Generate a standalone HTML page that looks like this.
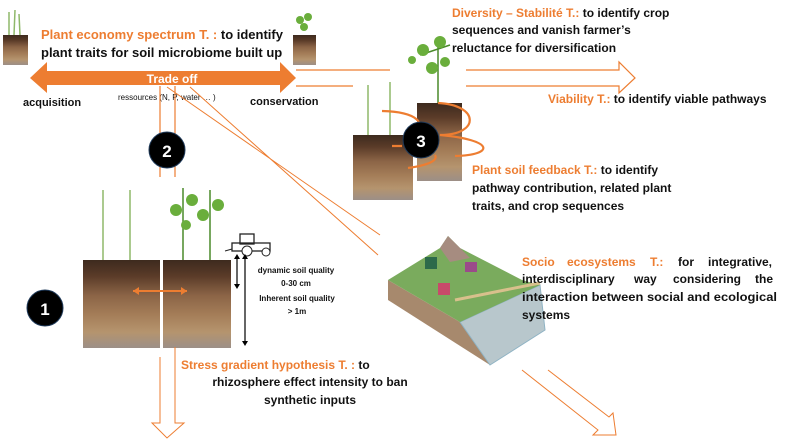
<!DOCTYPE html>
<html><head><meta charset="utf-8"><style>
html,body{margin:0;padding:0;background:#fff;}
svg{display:block;}
text{font-family:"Liberation Sans",sans-serif;font-weight:bold;}
.o{fill:#ED7D31;}
.k{fill:#111;}
</style></head><body>
<svg width="785" height="444" viewBox="0 0 785 444" xmlns="http://www.w3.org/2000/svg">
<defs>
<linearGradient id="soil" x1="0" y1="0" x2="0" y2="1">
<stop offset="0" stop-color="#3d2a1e"/><stop offset="0.18" stop-color="#5a3b28"/>
<stop offset="0.4" stop-color="#8b6446"/><stop offset="0.62" stop-color="#a47d58"/>
<stop offset="0.82" stop-color="#b5946e"/><stop offset="1" stop-color="#9c8f87"/>
</linearGradient>
</defs>
<!-- small icons top -->
<rect x="3" y="35" width="25" height="30" fill="url(#soil)"/>
<path d="M9 35 L9 12 M14 35 L15 10 M20 35 L19 14" stroke="#8fb86a" stroke-width="1.5"/>
<rect x="293" y="35" width="23" height="30" fill="url(#soil)"/>
<circle cx="300" cy="20" r="4" fill="#6aae3c"/><circle cx="308" cy="17" r="4" fill="#6aae3c"/><circle cx="304" cy="27" r="4" fill="#6aae3c"/>

<text x="41" y="39" font-size="13"><tspan class="o">Plant economy spectrum T. : </tspan><tspan class="k">to identify</tspan></text>
<text x="41" y="57" font-size="13" class="k">plant traits for soil microbiome built up</text>

<path d="M296 70 L390 70 M466 70 L619 70 L619 62 L635 78 L619 93 L619 86 L466 86 M353 86 L296 86" fill="none" stroke="#ED7D31" stroke-width="1.2"/>

<path d="M30 78 L47 62 L47 71 L280 71 L280 62 L296 78 L280 93 L280 85 L47 85 L47 93 Z" fill="#ED7D31"/>
<text x="172" y="83" font-size="12" fill="#fff" text-anchor="middle">Trade off</text>
<text x="23" y="106" font-size="11" class="k">acquisition</text>
<text x="118" y="100" font-size="8" style="font-weight:normal" class="k">ressources (N, P, water … )</text>
<text x="250" y="105" font-size="11" class="k">conservation</text>

<path d="M160 86 L160 177 M175 86 L175 177" stroke="#ED7D31" stroke-width="1.2"/>
<path d="M167 87 L380 235 M190 87 L378 255" stroke="#ED7D31" stroke-width="1"/>
<circle cx="167" cy="150" r="18" fill="#000" stroke="#1f3a5a" stroke-width="1"/>
<text x="167" y="157" font-size="17" fill="#fff" text-anchor="middle">2</text>

<text x="452" y="17" font-size="12"><tspan class="o">Diversity – Stabilité T.: </tspan><tspan class="k">to identify crop</tspan></text>
<text x="452" y="34" font-size="12" class="k">sequences and vanish farmer’s</text>
<text x="452" y="52" font-size="12" class="k">reluctance for diversification</text>
<text x="548" y="103" font-size="12"><tspan class="o">Viability T.: </tspan><tspan class="k">to identify viable pathways</tspan></text>

<rect x="353" y="135" width="60" height="65" fill="url(#soil)"/>
<rect x="417" y="103" width="45" height="78" fill="url(#soil)"/>
<path d="M368 135 L368 85 M390 135 L390 82" stroke="#8fb86a" stroke-width="1.5"/>
<path d="M438 103 L438 40 M420 55 L450 45" stroke="#4a8a2a" stroke-width="1.5"/>
<circle cx="423" cy="50" r="6" fill="#6aae3c"/><circle cx="440" cy="42" r="6" fill="#6aae3c"/><circle cx="432" cy="68" r="6" fill="#6aae3c"/><circle cx="445" cy="62" r="5" fill="#6aae3c"/><circle cx="412" cy="60" r="4" fill="#6aae3c"/>
<path d="M382 111 C420 112 425 125 415 132 M438 103 C480 105 480 135 440 135 C495 140 495 155 455 156 M392 146 L402 146 M408 168 C430 165 438 160 435 155" fill="none" stroke="#ED7D31" stroke-width="2.2"/>
<circle cx="421" cy="140" r="18" fill="#000" stroke="#1f3a5a" stroke-width="1"/>
<text x="421" y="147" font-size="17" fill="#fff" text-anchor="middle">3</text>

<text x="472" y="174" font-size="12"><tspan class="o">Plant soil feedback T.: </tspan><tspan class="k">to identify</tspan></text>
<text x="472" y="192" font-size="12" class="k">pathway contribution, related plant</text>
<text x="472" y="210" font-size="12" class="k">traits, and crop sequences</text>

<polygon points="388,280 460,322 490,365 388,300" fill="#a7896d"/>
<polygon points="460,322 540,285 545,330 490,365" fill="#b8c7cc" stroke="#8fb3c4" stroke-width="1"/>
<polygon points="388,280 440,248 448,236 460,248 522,280 540,285 460,322" fill="#7aab5d"/>
<polygon points="440,248 448,236 458,246 470,258 450,262" fill="#a68c80"/>
<path d="M455 300 L540 283" stroke="#d8c08c" stroke-width="3"/>
<rect x="425" y="257" width="12" height="12" fill="#2d6a4a"/><rect x="465" y="262" width="12" height="10" fill="#9b4a8a"/><rect x="438" y="283" width="12" height="12" fill="#c84a6a"/>
<text x="522" y="266" font-size="12"><tspan class="o">Socio</tspan><tspan class="o" x="567">ecosystems</tspan><tspan class="o" x="650">T.:</tspan><tspan class="k" x="678">for</tspan><tspan class="k" x="708">integrative,</tspan></text>
<text x="522" y="283" font-size="12" class="k">interdisciplinary<tspan x="634">way</tspan><tspan x="673">considering</tspan><tspan x="755">the</tspan></text>
<text x="522" y="301" font-size="12" class="k" textLength="255" lengthAdjust="spacingAndGlyphs">interaction between social and ecological</text>
<text x="522" y="319" font-size="12" class="k">systems</text>

<path d="M522 370 L598 430 L593 435 L616 435 L613 413 L609 417 L548 370" fill="none" stroke="#ED7D31" stroke-width="1"/>

<rect x="83" y="260" width="77" height="88" fill="url(#soil)"/>
<rect x="163" y="260" width="68" height="88" fill="url(#soil)"/>
<path d="M103 260 L103 190 M130 260 L130 190" stroke="#8fb86a" stroke-width="1.5"/>
<path d="M183 260 L183 188 M210 260 L210 190" stroke="#4a8a2a" stroke-width="1.5"/>
<circle cx="176" cy="210" r="6" fill="#6aae3c"/><circle cx="192" cy="200" r="6" fill="#6aae3c"/><circle cx="203" cy="215" r="6" fill="#6aae3c"/><circle cx="218" cy="205" r="6" fill="#6aae3c"/><circle cx="186" cy="225" r="5" fill="#6aae3c"/>
<path d="M133 291 L187 291" stroke="#ED7D31" stroke-width="2"/>
<path d="M133 291 L139 287 L139 295 Z M187 291 L181 287 L181 295 Z" fill="#ED7D31"/>
<rect x="240" y="234" width="14" height="10" fill="none" stroke="#222" stroke-width="1.3"/>
<rect x="232" y="243" width="38" height="8" fill="none" stroke="#222" stroke-width="1.3"/>
<circle cx="247" cy="251" r="5" fill="#fff" stroke="#222"/><circle cx="266" cy="252" r="4" fill="#fff" stroke="#222"/>
<path d="M225 251 L232 249" stroke="#222"/>
<path d="M237 256 L237 287 M245 256 L245 344" stroke="#000" stroke-width="1.2"/>
<path d="M237 254 L234 259 L240 259 Z M237 289 L234 284 L240 284 Z M245 254 L242 259 L248 259 Z M245 346 L242 341 L248 341 Z" fill="#000"/>
<g font-size="8" class="k" text-anchor="middle">
<text x="296" y="273">dynamic soil quality</text>
<text x="296" y="286">0-30 cm</text>
<text x="297" y="301">Inherent soil quality</text>
<text x="297" y="314">&gt; 1m</text>
</g>
<circle cx="45" cy="308" r="18" fill="#000" stroke="#1f3a5a" stroke-width="1"/>
<text x="45" y="315" font-size="17" fill="#fff" text-anchor="middle">1</text>

<path d="M160 357 L160 423 L152 423 L167 438 L184 423 L175 423 L175 347" fill="none" stroke="#ED7D31" stroke-width="1"/>
<text x="181" y="369" font-size="12"><tspan class="o">Stress gradient hypothesis T. : </tspan><tspan class="k">to</tspan></text>
<text x="310" y="386" font-size="12" class="k" text-anchor="middle">rhizosphere effect intensity to ban</text>
<text x="310" y="404" font-size="12" class="k" text-anchor="middle">synthetic inputs</text>
</svg>
</body></html>
